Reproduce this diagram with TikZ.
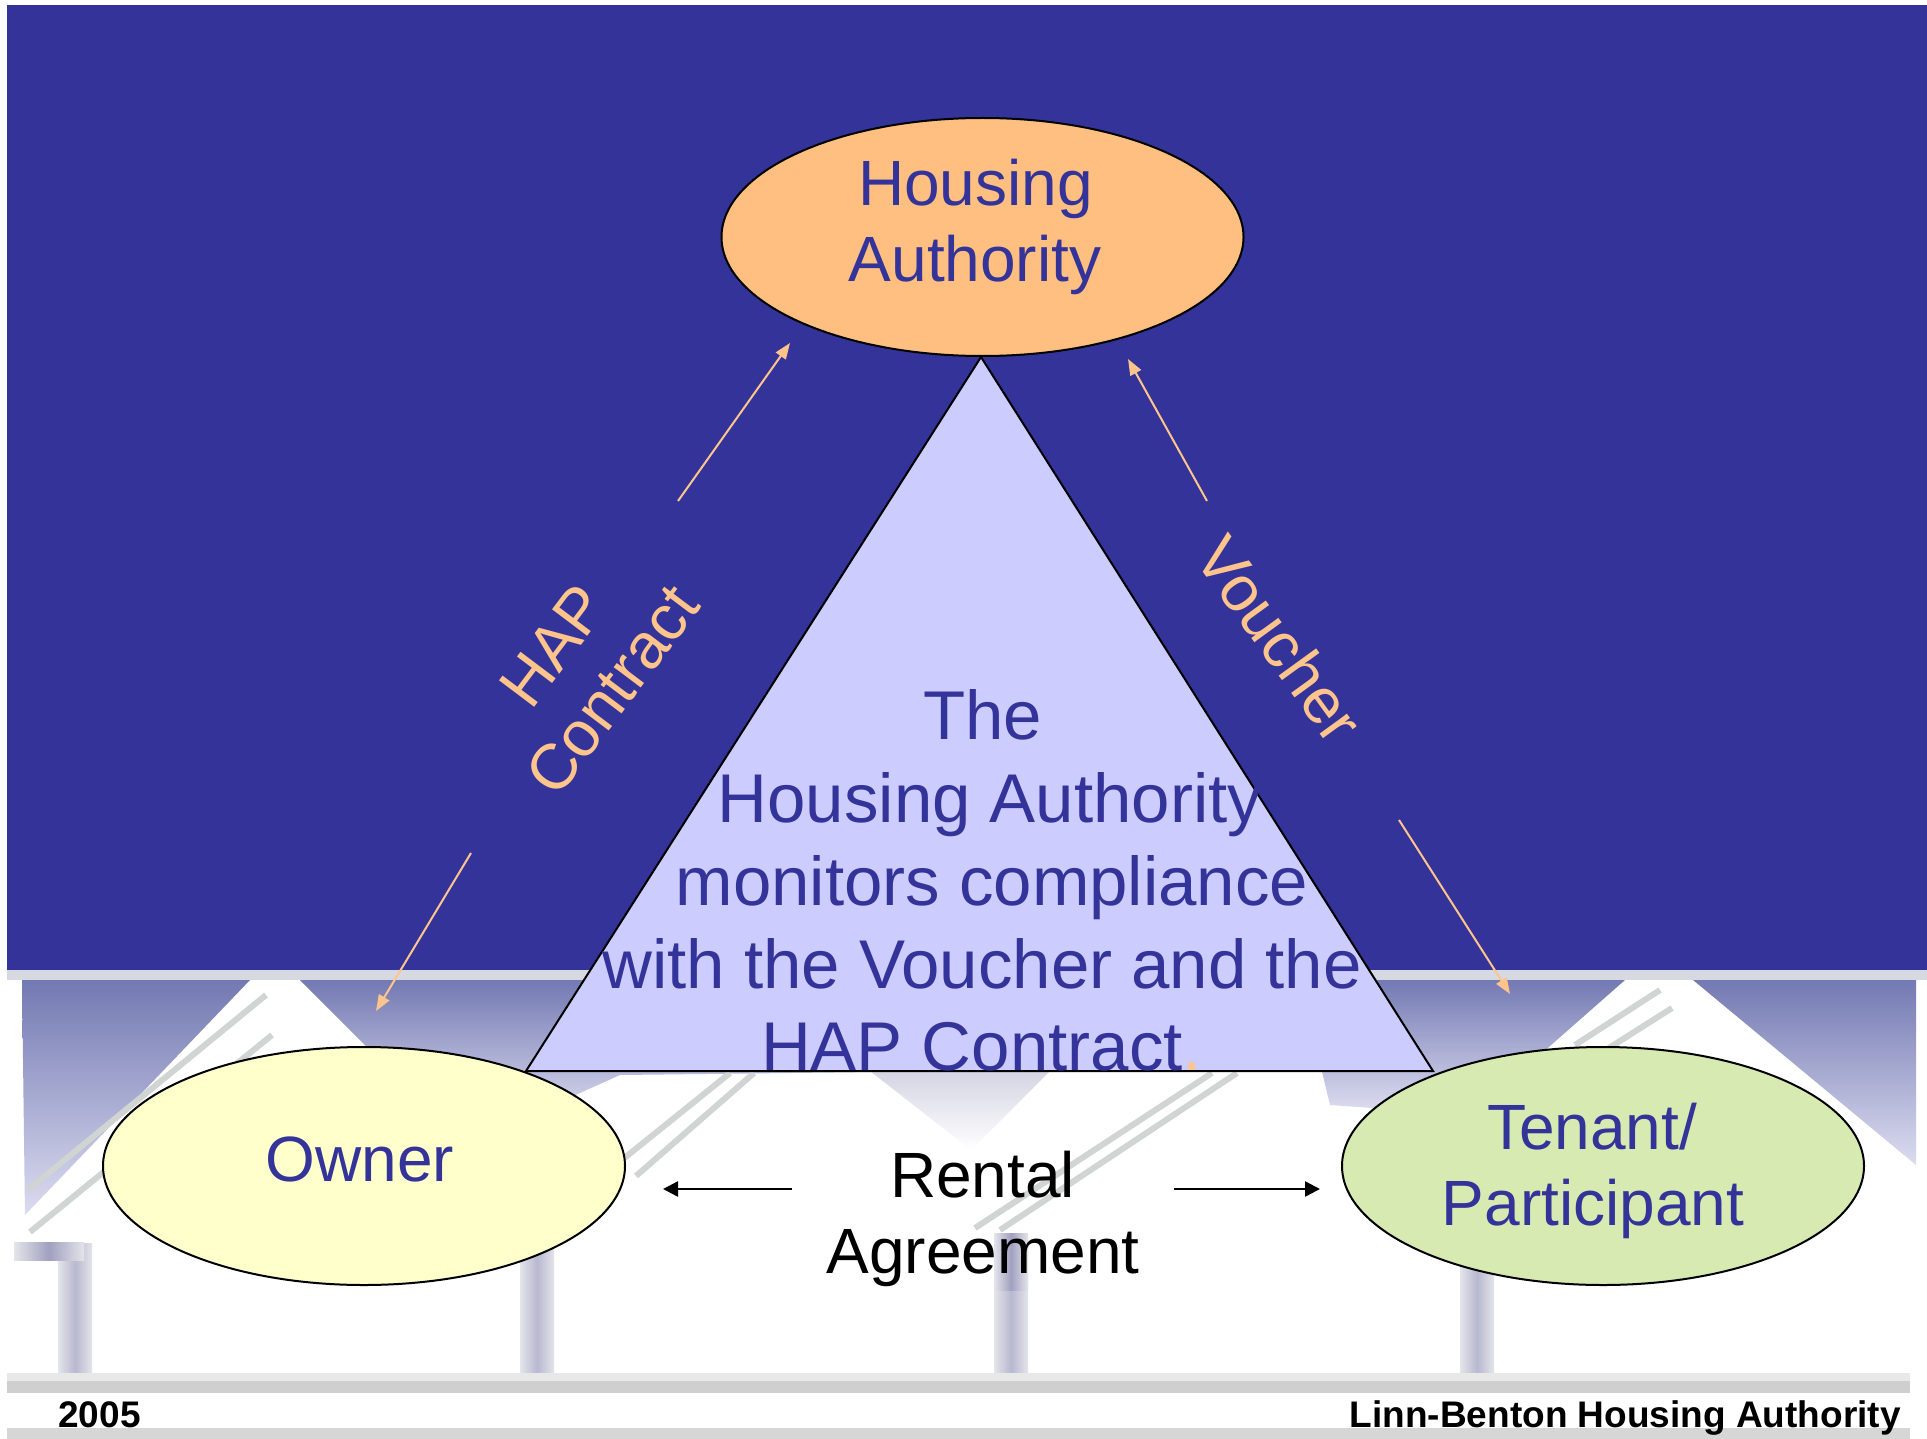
\documentclass[tikz,border=0pt]{standalone}
\usepackage{fontspec}
\setmainfont{Liberation Sans}
\usetikzlibrary{arrows.meta,shapes.geometric}
\definecolor{bgblue}{HTML}{333399}
\definecolor{txtblue}{HTML}{333399}
\definecolor{peach}{HTML}{FFC48C}
\definecolor{hafill}{HTML}{FFBF80}
\definecolor{trifill}{HTML}{CCCCFF}
\definecolor{ownfill}{HTML}{FFFFCC}
\definecolor{tenfill}{HTML}{D7EAB2}
\definecolor{lavtop}{HTML}{7379B2}
\definecolor{lavbot}{HTML}{DCDCF0}
\definecolor{bandtop}{HTML}{D6D8E2}
\definecolor{stripecol}{HTML}{D0D4D2}
\definecolor{postmid}{HTML}{B8B8D0}
\definecolor{postedge}{HTML}{E4E4EA}
\definecolor{postdark}{HTML}{A0A0C0}
\definecolor{barlight}{HTML}{E8E8E8}
\definecolor{barcol}{HTML}{CFCFCF}
\definecolor{barlow}{HTML}{D6D6D6}
\tikzset{
  bubble/.style={ellipse, draw=black, line width=1pt, inner sep=0pt,
    minimum width=261pt, minimum height=119pt},
  bigtext/.style={font=\fontsize{32}{38}\selectfont, text=txtblue, inner sep=0pt, anchor=base},
  tritext/.style={font=\fontsize{34.5}{41.5}\selectfont, text=txtblue, inner sep=0pt, anchor=base},
  blacktext/.style={font=\fontsize{32}{38}\selectfont, text=black, inner sep=0pt, anchor=base},
  peachtext/.style={font=\fontsize{32}{37}\selectfont, text=peach, inner sep=0pt, align=center},
  foot/.style={font=\fontsize{18.5}{22}\selectfont\bfseries, text=black, inner sep=0pt},
  peacharrow/.style={draw=peach, line width=1pt, -{Triangle[length=8pt,width=6pt]}},
  blackarrow/.style={draw=black, line width=1.2pt, -{Triangle[length=7.5pt,width=7.5pt]}},
  stripeline/.style={draw=stripecol, line width=3pt},
  postbar/.style={left color=postedge, right color=postedge, middle color=postmid},
  lavender/.style={top color=lavtop, bottom color=lavbot},
}
\begin{document}
\begin{tikzpicture}[x=0.5pt,y=-0.5pt]
\useasboundingbox (0,0) rectangle (1927,1439);
% background
\fill[white] (0,0) rectangle (1927,1439);
\fill[bgblue] (7,5) rectangle (1927,970);
\fill[bandtop] (7,970) rectangle (1927,980);
% roof-pattern band
\shade[lavender] (22,980) -- (250,980) -- (25,1215) -- cycle;
\shade[lavender] (300,980) -- (960,980) -- (960,1071) -- (620,1075) -- (520,1120) -- (440,1120) -- cycle;
\shade[lavender] (1300,980) -- (1625,980) -- (1500,1090) -- (1400,1110) -- (1330,1105) -- cycle;
\shade[lavender] (1693,980) -- (1916,980) -- (1916,1165) -- cycle;
\shade[top color=postmid!60, bottom color=white] (870,1071) -- (1050,1071) -- (971,1150) -- cycle;
\draw[stripeline] (266,995) -- (28,1190);
\draw[stripeline] (272,1035) -- (30,1232);
\draw[stripeline] (1660,990) -- (1575,1045);
\draw[stripeline] (1672,1008) -- (1590,1060);
\draw[stripeline] (975,1228) -- (1212,1073);
\draw[stripeline] (1000,1230) -- (1237,1073);
\draw[stripeline] (612,1168) -- (730,1073);
\draw[stripeline] (636,1176) -- (754,1073);
% posts
\shade[postbar] (58,1243) rectangle (92,1373);
\shade[left color=postedge, right color=postedge, middle color=postdark] (14,1242) rectangle (84,1260);
\shade[postbar] (520,1230) rectangle (554,1373);
\shade[postbar] (994,1233) rectangle (1028,1373);
\shade[left color=postedge, right color=postedge, middle color=postdark] (994,1233) rectangle (1028,1290);
\shade[postbar] (1460,1230) rectangle (1494,1373);
% bars
\fill[barlight] (7,1373) rectangle (1910,1381);
\fill[barcol] (7,1381) rectangle (1910,1393);
\fill[barlow] (7,1428) rectangle (1910,1439);

% triangle
\coordinate (tA) at (981,357);
\coordinate (tL) at (526,1071);
\coordinate (tR) at (1433,1071);
\draw[fill=trifill, line width=1pt] (tA) -- (tL) -- (tR) -- cycle;

% ellipses
\node[bubble, fill=hafill] (ha) at (982.5,237) {};
\node[bubble, fill=ownfill] (own) at (364,1166) {};
\node[bubble, fill=tenfill] (ten) at (1603,1166) {};

% ellipse texts
\node[bigtext] (ha1) at (975.5,206) {Housing};
\node[bigtext] (ha2) at (975,282) {Authority};
\node[bigtext] (ow1) at (360,1181) {Owner};
\node[bigtext] (te1) at (1592,1149) {Tenant/};
\node[bigtext] (te2) at (1593,1225) {Participant};

% triangle text
\node[tritext] (tt1) at (982.5,739) {The};
\node[tritext] (tt2) at (990,822) {Housing Authority};
\node[tritext] (tt3) at (992,905) {monitors compliance};
\node[tritext] (tt4) at (982,988) {with the Voucher and the};
\node[tritext] (tt5) at (981.5,1070) {HAP Contract\textcolor{peach}{.}};

% rental agreement
\node[blacktext] (ra1) at (982.5,1197) {Rental};
\node[blacktext] (ra2) at (983,1273) {Agreement};
\coordinate (raLs) at (792,1189);
\coordinate (raLe) at (663,1189);
\coordinate (raRs) at (1174,1189);
\coordinate (raRe) at (1320,1189);
\draw[blackarrow] (raLs) -- (raLe);
\draw[blackarrow] (raRs) -- (raRe);

% side labels
\node[peachtext, rotate=53] (hap) at (583,668) {HAP\\Contract};
\node[peachtext, rotate=-54] (vou) at (1280,639) {Voucher};
\coordinate (hapUs) at (678,501);
\coordinate (hapUe) at (790,343);
\coordinate (hapDs) at (471,853);
\coordinate (hapDe) at (376,1011);
\coordinate (vouUs) at (1207,501);
\coordinate (vouUe) at (1128,359);
\coordinate (vouDs) at (1399,820);
\coordinate (vouDe) at (1510,994);
\draw[peacharrow] (hapUs) -- (hapUe);
\draw[peacharrow] (hapDs) -- (hapDe);
\draw[peacharrow] (vouUs) -- (vouUe);
\draw[peacharrow] (vouDs) -- (vouDe);

% footer
\node[foot, anchor=base west] (yr) at (58,1427) {2005};
\node[foot, anchor=base east] (org) at (1901,1427) {Linn-Benton Housing Authority};
\end{tikzpicture}
\end{document}
